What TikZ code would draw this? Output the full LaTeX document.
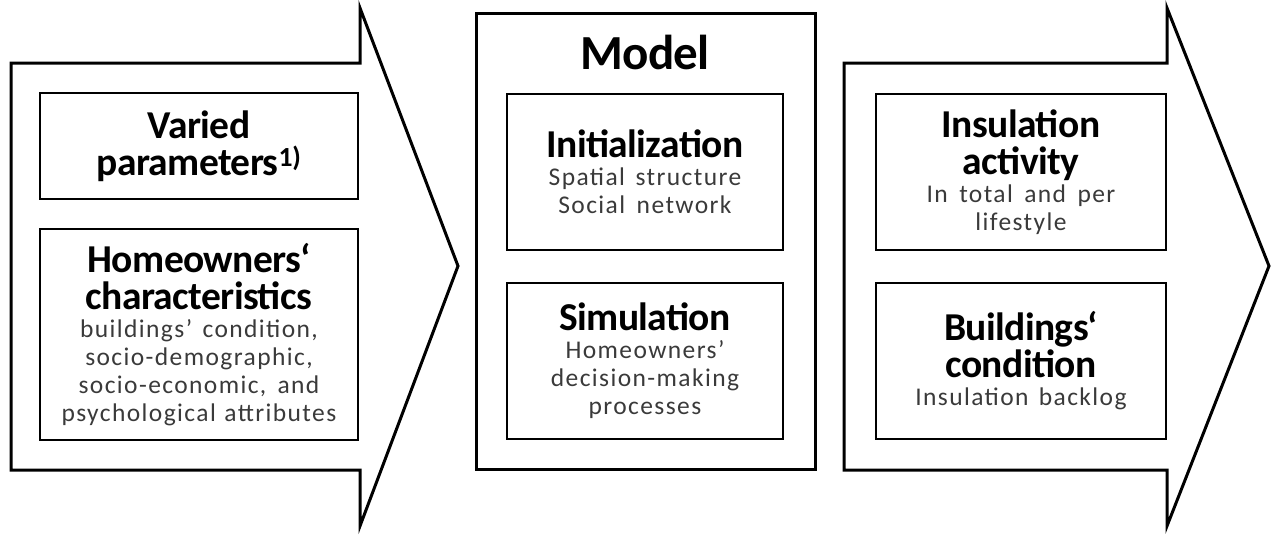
\documentclass[tikz,border=0pt]{standalone}
\usepackage{fontspec}
\setmainfont{Carlito}
\newfontfamily\subfont[LetterSpace=5.5]{Carlito}
\newfontfamily\ttlfont[LetterSpace=-1.5]{Carlito}
\definecolor{subgray}{HTML}{3A3A3A}
\tikzset{
  outline/.style={draw=black, line width=3pt, line join=miter},
  inbox/.style={draw=black, line width=2.2pt, align=center, inner sep=0pt},
}
\newcommand{\ttl}[1]{{\ttlfont\bfseries\fontsize{39.5}{37}\selectfont #1\par}}
\newcommand{\sub}[1]{{\subfont\fontsize{25.5}{28}\selectfont\spaceskip=6.5pt plus 2pt minus 1pt\color{subgray}#1\par}}
\begin{document}
\begin{tikzpicture}[x=1pt,y=-1pt]
\useasboundingbox (0,0) rectangle (1272,538);
% left arrow
\draw[outline] (11,63) -- (360,63) -- (360,8) -- (458,266) -- (360,526) -- (360,470) -- (11,470) -- cycle;
% right arrow
\draw[outline] (844,63) -- (1167,63) -- (1167,8) -- (1269,266) -- (1167,526) -- (1167,470) -- (844,470) -- cycle;
% model box
\node[draw=black, line width=3pt, minimum width=339pt, minimum height=456pt, inner sep=0pt] (model) at (645.5,241) {};
\node (modeltitle) at (645,52) {\ttlfont\bfseries\fontsize{49}{49}\selectfont Model};
% left boxes
\node[inbox, minimum width=318pt, minimum height=106pt, text width=316pt] (vp) at (199,146)
  {\ttl{Varied\\parameters\textsuperscript{1)}}};
\node[inbox, minimum width=318pt, minimum height=211pt, text width=316pt] (ho) at (199,334.5)
  {\ttl{Homeowners‘\\characteristics}\sub{buildings’ condition,\\socio-demographic,\\socio-economic, and\\psychological attributes}};
% middle boxes
\node[inbox, minimum width=276pt, minimum height=156pt, text width=274pt] (init) at (645,172)
  {\ttl{Initialization}\sub{Spatial structure\\Social network}};
\node[inbox, minimum width=276pt, minimum height=156pt, text width=274pt] (sim) at (645,361)
  {\ttl{Simulation}\sub{Homeowners’\\decision-making\\processes}};
% right boxes
\node[inbox, minimum width=290pt, minimum height=156pt, text width=288pt] (ia) at (1021,172)
  {\ttl{Insulation\\activity}\sub{In total and per\\lifestyle}};
\node[inbox, minimum width=290pt, minimum height=156pt, text width=288pt] (bc) at (1021,361)
  {\ttl{Buildings‘\\condition}\sub{Insulation backlog}};
\end{tikzpicture}
\end{document}
